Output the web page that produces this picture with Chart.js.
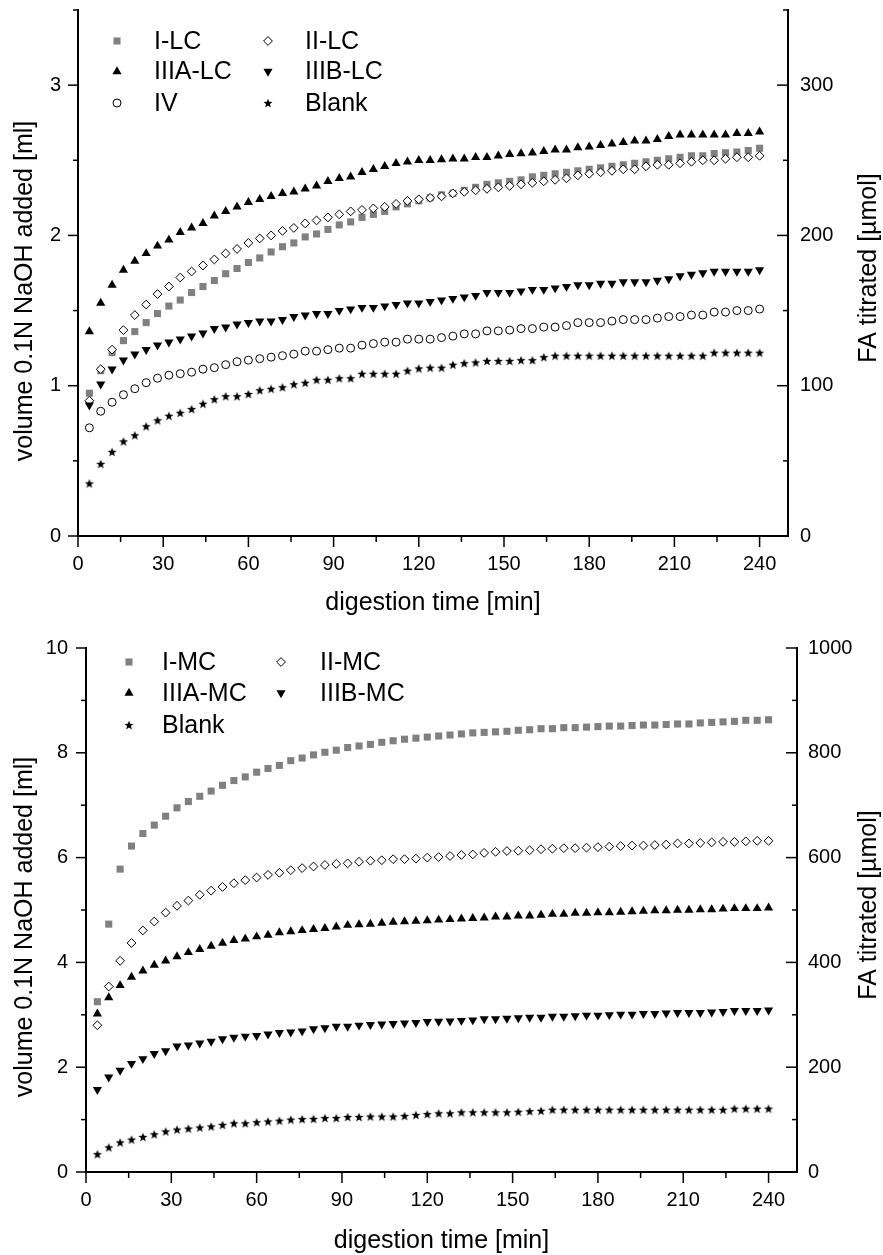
<!DOCTYPE html>
<html>
<head>
<meta charset="utf-8">
<title>Formic acid titration vs digestion time</title>
<script src="https://cdn.jsdelivr.net/npm/chart.js@4.4.1/dist/chart.umd.min.js"></script>
<style>
  html, body { margin: 0; padding: 0; background: #fff; }
  #wrap { position: relative; width: 883px; height: 1255px; }
  canvas { position: absolute; left: 0; }
  #lcChart { top: 0; }
  #mcChart { top: 620px; }
</style>
</head>
<body>
<div id="wrap">
  <canvas id="lcChart" width="883" height="620"></canvas>
  <canvas id="mcChart" width="883" height="635"></canvas>
</div>
<script>
// Two panels: NaOH volume added vs digestion time (LC samples on top, MC below)
// Right axis is the same quantity expressed as FA titrated [µmol]

// sampling times [min]
const times = [4,8,12,16,20,24,28,32,36,40,44,48,52,56,60,64,68,72,76,80,
  84,88,92,96,100,104,108,112,116,120,124,128,132,136,140,144,148,152,156,160,
  164,168,172,176,180,184,188,192,196,200,204,208,212,216,220,224,228,232,236,240];

// upper panel, volume 0.1N NaOH [ml]
const lcLabels = ['I-LC', 'II-LC', 'IIIA-LC', 'IIIB-LC', 'IV', 'Blank'];
const lcI = [0.95,1.10,1.22,1.30,1.36,1.42,1.48,1.53,1.57,1.62, 1.66,1.70,1.745,1.78,1.82,1.85,1.89,1.925,1.95,1.99,
  2.01,2.04,2.07,2.09,2.12,2.14,2.16,2.19,2.21,2.23, 2.25,2.27,2.28,2.30,2.32,2.34,2.35,2.36,2.37,2.39,
  2.40,2.41,2.42,2.43,2.44,2.45,2.46,2.47,2.48,2.49, 2.50,2.51,2.52,2.53,2.53,2.545,2.55,2.555,2.565,2.58];
const lcII = [0.90,1.11,1.24,1.37,1.47,1.54,1.61,1.66,1.72,1.76, 1.80,1.84,1.88,1.91,1.95,1.98,2.00,2.03,2.05,2.08,
  2.10,2.12,2.14,2.16,2.17,2.18,2.19,2.21,2.23,2.24, 2.25,2.26,2.28,2.29,2.30,2.31,2.32,2.33,2.34,2.35,
  2.36,2.37,2.38,2.40,2.41,2.42,2.43,2.44,2.44,2.46, 2.47,2.47,2.48,2.49,2.50,2.50,2.51,2.52,2.52,2.53];
const lcIIIA = [1.36,1.55,1.67,1.77,1.83,1.88,1.93,1.97,2.02,2.05, 2.08,2.13,2.16,2.19,2.22,2.24,2.26,2.28,2.29,2.31,
  2.33,2.36,2.38,2.39,2.42,2.44,2.46,2.48,2.49,2.50, 2.50,2.505,2.51,2.51,2.52,2.52,2.53,2.54,2.545,2.55,
  2.56,2.57,2.57,2.585,2.59,2.60,2.61,2.62,2.63,2.63, 2.64,2.66,2.67,2.67,2.67,2.67,2.67,2.68,2.68,2.69];
const lcIIIB = [0.87,1.01,1.11,1.17,1.21,1.24,1.27,1.29,1.31,1.33, 1.35,1.38,1.39,1.41,1.42,1.43,1.43,1.44,1.46,1.47,
  1.48,1.48,1.50,1.51,1.52,1.52,1.53,1.54,1.55,1.55, 1.56,1.57,1.58,1.59,1.60,1.62,1.62,1.62,1.63,1.64,
  1.64,1.65,1.66,1.67,1.67,1.68,1.68,1.69,1.69,1.69, 1.70,1.71,1.73,1.74,1.75,1.76,1.76,1.76,1.76,1.77];
const lcIV = [0.72,0.83,0.89,0.94,0.98,1.02,1.05,1.07,1.08,1.09, 1.11,1.12,1.14,1.16,1.17,1.18,1.19,1.20,1.21,1.23,
  1.23,1.24,1.25,1.25,1.27,1.28,1.29,1.29,1.31,1.31, 1.31,1.32,1.33,1.345,1.345,1.365,1.365,1.37,1.38,1.38,
  1.39,1.39,1.40,1.42,1.42,1.42,1.43,1.44,1.44,1.44, 1.45,1.46,1.46,1.47,1.47,1.49,1.49,1.50,1.50,1.51];
const lcBlank = [0.35,0.48,0.56,0.63,0.67,0.73,0.77,0.80,0.82,0.845, 0.88,0.91,0.93,0.93,0.945,0.97,0.98,0.99,1.01,1.02,
  1.04,1.04,1.05,1.05,1.08,1.08,1.08,1.08,1.10,1.115, 1.12,1.12,1.14,1.15,1.155,1.165,1.165,1.165,1.17,1.17,
  1.19,1.20,1.20,1.20,1.20,1.20,1.20,1.20,1.20,1.20, 1.20,1.20,1.20,1.20,1.20,1.22,1.22,1.22,1.22,1.22];

// lower panel
const mcLabels = ['I-MC', 'II-MC', 'IIIA-MC', 'IIIB-MC', 'Blank'];
const mcI = [3.25,4.73,5.78,6.22,6.46,6.62,6.79,6.95,7.07,7.17, 7.27,7.38,7.47,7.54,7.63,7.70,7.76,7.85,7.90,7.96,
  8.01,8.05,8.10,8.13,8.16,8.20,8.23,8.26,8.28,8.30, 8.32,8.34,8.36,8.38,8.39,8.40,8.41,8.43,8.44,8.46,
  8.46,8.48,8.48,8.49,8.50,8.51,8.51,8.52,8.53,8.53, 8.54,8.55,8.55,8.57,8.58,8.59,8.60,8.62,8.62,8.63];
const mcII = [2.80,3.54,4.03,4.37,4.61,4.78,4.95,5.08,5.18,5.29, 5.37,5.44,5.51,5.57,5.62,5.67,5.71,5.76,5.80,5.83,
  5.86,5.88,5.89,5.92,5.94,5.95,5.97,5.97,5.98,6.00, 6.01,6.03,6.05,6.06,6.09,6.11,6.125,6.13,6.14,6.16,
  6.17,6.18,6.18,6.19,6.20,6.21,6.22,6.23,6.23,6.24, 6.25,6.27,6.27,6.28,6.29,6.30,6.30,6.31,6.32,6.32];
const mcIIIA = [3.02,3.33,3.56,3.72,3.84,3.95,4.03,4.11,4.19,4.25, 4.31,4.37,4.42,4.45,4.49,4.52,4.57,4.59,4.61,4.63,
  4.65,4.68,4.71,4.72,4.73,4.75,4.77,4.78,4.79,4.80, 4.81,4.82,4.83,4.84,4.85,4.87,4.87,4.89,4.89,4.905,
  4.92,4.92,4.94,4.94,4.95,4.95,4.96,4.97,4.98,4.99, 4.99,5.00,5.00,5.01,5.01,5.02,5.03,5.03,5.03,5.04];
const mcIIIB = [1.57,1.81,1.94,2.07,2.16,2.26,2.31,2.40,2.42,2.46, 2.49,2.54,2.57,2.59,2.60,2.63,2.66,2.67,2.69,2.73,
  2.75,2.78,2.78,2.80,2.81,2.82,2.83,2.84,2.85,2.87, 2.875,2.88,2.89,2.90,2.92,2.92,2.93,2.94,2.95,2.95,
  2.97,2.97,2.98,2.99,2.99,3.00,3.01,3.01,3.02,3.02, 3.03,3.04,3.04,3.04,3.05,3.06,3.08,3.08,3.08,3.09];
const mcBlank = [0.34,0.47,0.565,0.62,0.67,0.72,0.775,0.81,0.83,0.85, 0.87,0.90,0.93,0.93,0.95,0.965,0.98,1.00,1.01,1.015,
  1.03,1.03,1.05,1.05,1.06,1.06,1.06,1.07,1.09,1.105, 1.12,1.12,1.14,1.14,1.14,1.14,1.14,1.15,1.16,1.17,
  1.19,1.19,1.19,1.19,1.19,1.19,1.19,1.19,1.19,1.19, 1.19,1.19,1.19,1.19,1.19,1.19,1.21,1.21,1.21,1.21];

// tick labels
const xTicks = [0, 30, 60, 90, 120, 150, 180, 210, 240];
const lcLeftTicks = [0, 1, 2, 3];
const lcRightTicks = [0, 100, 200, 300];
const mcLeftTicks = [0, 2, 4, 6, 8, 10];
const mcRightTicks = [0, 200, 400, 600, 800, 1000];

const FONT = '"Liberation Sans", Arial, Helvetica, sans-serif';

// filled 5 point star, used as an image point style
function starMarker(r) {
  const c = document.createElement('canvas');
  const s = Math.ceil(r * 2) + 2;
  c.width = s; c.height = s;
  const g = c.getContext('2d');
  g.translate(s / 2, s / 2 + 0.5);
  g.beginPath();
  for (let i = 0; i < 10; i++) {
    const rr = i % 2 ? r * 0.42 : r;
    const a = -Math.PI / 2 + i * Math.PI / 5;
    g.lineTo(Math.cos(a) * rr, Math.sin(a) * rr);
  }
  g.closePath();
  g.fillStyle = '#000';
  g.fill();
  return c;
}

const MARKERS = {
  square:  {pointStyle: 'rect', radius: 5, rotation: 0, fill: '#808080', stroke: '#808080', borderWidth: 0},
  diamond: {pointStyle: 'rectRot', radius: 4.4, rotation: 0, fill: '#fff', stroke: '#000', borderWidth: 1},
  up:      {pointStyle: 'triangle', radius: 5.3, rotation: 0, fill: '#000', stroke: '#000', borderWidth: 0},
  down:    {pointStyle: 'triangle', radius: 5.3, rotation: 180, fill: '#000', stroke: '#000', borderWidth: 0},
  circle:  {pointStyle: 'circle', radius: 4, rotation: 0, fill: '#fff', stroke: '#000', borderWidth: 1},
  star:    {pointStyle: starMarker(4.8), radius: 5, rotation: 0, fill: '#000', stroke: '#000', borderWidth: 0}
};

function series(label, values, marker, order) {
  const m = MARKERS[marker];
  return {
    label, order, marker,
    data: times.map((t, i) => ({x: t, y: values[i]})),
    showLine: false,
    pointStyle: m.pointStyle,
    pointRadius: m.radius,
    pointHoverRadius: m.radius,
    pointRotation: m.rotation,
    pointBackgroundColor: m.fill,
    pointBorderColor: m.stroke,
    pointBorderWidth: m.borderWidth
  };
}

// ticks (major + minor halfway), axis titles and the legend
function tickValues(scale) {
  const major = scale.ticks.map(t => t.value);
  const step = major[1] - major[0];
  const minor = [];
  for (let v = major[0] + step / 2; v <= scale.max + 1e-9; v += step) minor.push(v);
  return {major, minor};
}

function drawTicks(ctx, chart) {
  const a = chart.chartArea;
  const {x, y, y2} = chart.scales;
  ctx.save();
  ctx.strokeStyle = '#000';
  ctx.lineWidth = 1.5;
  const seg = (x1, y1, x2, y2_) => { ctx.beginPath(); ctx.moveTo(x1, y1); ctx.lineTo(x2, y2_); ctx.stroke(); };

  let tv = tickValues(x);
  tv.major.forEach(v => { const p = x.getPixelForValue(v); seg(p, a.bottom, p, a.bottom + 11); });
  tv.minor.forEach(v => { const p = x.getPixelForValue(v); seg(p, a.bottom, p, a.bottom + 6); });

  tv = tickValues(y);
  tv.major.forEach(v => { const p = y.getPixelForValue(v); seg(a.left - 10, p, a.left, p); });
  tv.minor.forEach(v => { const p = y.getPixelForValue(v); seg(a.left - 5, p, a.left, p); });

  // right axis ticks point inwards
  tv = tickValues(y2);
  tv.major.forEach(v => { const p = y2.getPixelForValue(v); seg(a.right, p, a.right - 11, p); });
  tv.minor.forEach(v => { const p = y2.getPixelForValue(v); seg(a.right, p, a.right - 5, p); });
  ctx.restore();
}

function drawTitles(ctx, chart, t) {
  const a = chart.chartArea;
  ctx.save();
  ctx.fillStyle = '#000';
  ctx.font = '25px ' + FONT;
  ctx.textAlign = 'center';
  ctx.textBaseline = 'alphabetic';
  ctx.fillText(t.x, (a.left + a.right) / 2, t.xBase);

  ctx.save();
  ctx.translate(t.yBase, t.yMid);
  ctx.rotate(-Math.PI / 2);
  ctx.fillText(t.y, 0, 0);
  ctx.restore();

  ctx.save();
  ctx.translate(t.y2Base, t.y2Mid);
  ctx.rotate(-Math.PI / 2);
  ctx.fillText(t.y2, 0, 0);
  ctx.restore();
  ctx.restore();
}

function drawLegend(ctx, chart, lg) {
  ctx.save();
  ctx.font = '25px ' + FONT;
  ctx.textBaseline = 'middle';
  ctx.textAlign = 'left';
  chart.data.datasets.forEach((ds, k) => {
    const col = k % 2, row = Math.floor(k / 2);
    const y = lg.rowY[row];
    const m = MARKERS[ds.marker];
    ctx.fillStyle = m.fill;
    ctx.strokeStyle = m.stroke;
    ctx.lineWidth = m.borderWidth;
    Chart.helpers.drawPoint(ctx, {pointStyle: m.pointStyle, rotation: m.rotation, radius: m.radius, borderWidth: m.borderWidth}, lg.markerX[col], y);
    ctx.fillStyle = '#000';
    ctx.fillText(ds.label, lg.textX[col], y + 1);
  });
  ctx.restore();
}

const decor = {
  id: 'decor',
  afterDraw(chart, args, opts) {
    const ctx = chart.ctx;
    drawTicks(ctx, chart);
    drawTitles(ctx, chart, opts.titles);
    drawLegend(ctx, chart, opts.legend);
  }
};

function makeChart(id, cfg) {
  const tickFont = {family: FONT, size: 20};
  const fixTicks = list => s => { s.ticks = list.map(v => ({value: v})); };
  // fixed axis boxes so the plot area lands where the reference has it
  const fitY = w => s => { s.width = w; s.paddingTop = 0; s.paddingBottom = 0; };
  return new Chart(document.getElementById(id), {
    type: 'scatter',
    data: {datasets: cfg.datasets},
    options: {
      responsive: false,
      animation: false,
      events: [],
      layout: {padding: {top: cfg.box.top, left: 0, right: 0, bottom: 0}},
      plugins: {
        legend: {display: false},
        tooltip: {enabled: false},
        decor: {titles: cfg.titles, legend: cfg.legend}
      },
      scales: {
        x: {
          type: 'linear', position: 'bottom', min: 0, max: 250,
          afterBuildTicks: fixTicks(xTicks),
          afterFit: s => { s.height = cfg.box.xHeight; s.paddingLeft = 0; s.paddingRight = 0; },
          grid: {display: false, drawTicks: false},
          border: {display: true, color: '#000', width: 2},
          ticks: {color: '#000', font: tickFont, padding: cfg.box.xPad, maxRotation: 0, callback: v => String(v)}
        },
        y: {
          type: 'linear', position: 'left', min: 0, max: cfg.yMax,
          afterBuildTicks: fixTicks(cfg.leftTicks),
          afterFit: fitY(cfg.box.left),
          grid: {display: false, drawTicks: false},
          border: {display: true, color: '#000', width: 2},
          ticks: {color: '#000', font: tickFont, padding: cfg.box.yPad, callback: v => String(v)}
        },
        y2: {
          type: 'linear', position: 'right', min: 0, max: cfg.y2Max,
          afterBuildTicks: fixTicks(cfg.rightTicks),
          afterFit: fitY(cfg.box.right),
          grid: {display: false, drawTicks: false},
          border: {display: true, color: '#000', width: 2},
          ticks: {color: '#000', font: tickFont, padding: cfg.box.y2Pad, callback: v => String(v)}
        }
      }
    },
    plugins: [decor]
  });
}

makeChart('lcChart', {
  datasets: [
    series(lcLabels[0], lcI, 'square', 6),
    series(lcLabels[1], lcII, 'diamond', 5),
    series(lcLabels[2], lcIIIA, 'up', 4),
    series(lcLabels[3], lcIIIB, 'down', 3),
    series(lcLabels[4], lcIV, 'circle', 2),
    series(lcLabels[5], lcBlank, 'star', 1)
  ],
  yMax: 3.5, y2Max: 350,
  leftTicks: lcLeftTicks, rightTicks: lcRightTicks,
  box: {top: 10, left: 78, right: 95, xHeight: 84, xPad: 16, yPad: 17, y2Pad: 12},
  titles: {
    x: 'digestion time [min]', xBase: 610,
    y: 'volume 0.1N NaOH added [ml]', yBase: 32, yMid: 291,
    y2: 'FA titrated [µmol]', y2Base: 876, y2Mid: 268
  },
  legend: {markerX: [117, 268], textX: [154, 305], rowY: [41, 71.5, 103]}
});

makeChart('mcChart', {
  datasets: [
    series(mcLabels[0], mcI, 'square', 5),
    series(mcLabels[1], mcII, 'diamond', 4),
    series(mcLabels[2], mcIIIA, 'up', 3),
    series(mcLabels[3], mcIIIB, 'down', 2),
    series(mcLabels[4], mcBlank, 'star', 1)
  ],
  yMax: 10, y2Max: 1000,
  leftTicks: mcLeftTicks, rightTicks: mcRightTicks,
  box: {top: 28, left: 86, right: 86, xHeight: 83, xPad: 16, yPad: 18, y2Pad: 11},
  titles: {
    x: 'digestion time [min]', xBase: 628,
    y: 'volume 0.1N NaOH added [ml]', yBase: 32, yMid: 307,
    y2: 'FA titrated [µmol]', y2Base: 876, y2Mid: 285
  },
  legend: {markerX: [129, 281], textX: [162, 320], rowY: [42, 73, 105]}
});
</script>
</body>
</html>
